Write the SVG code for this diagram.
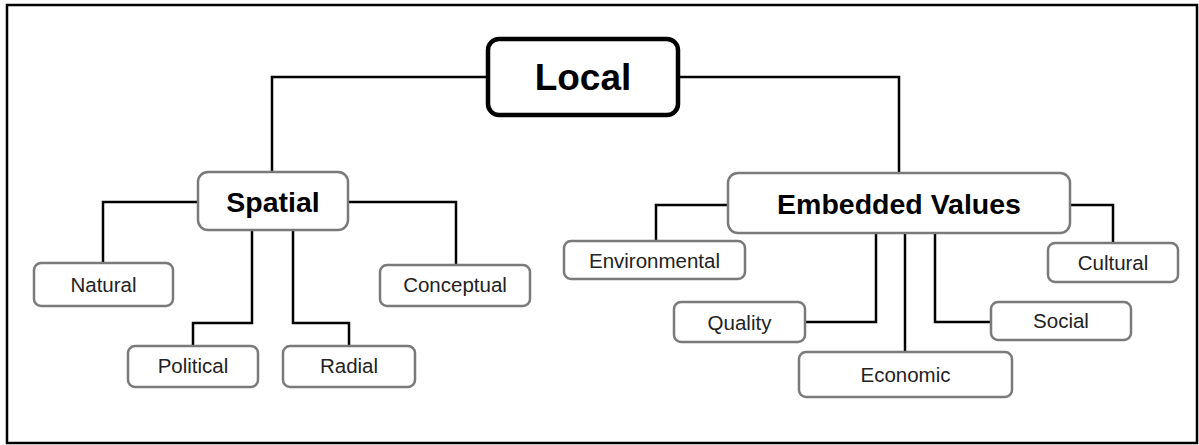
<svg xmlns="http://www.w3.org/2000/svg" width="1199" height="445" viewBox="0 0 1199 445">
<style>
.frame{fill:#fff;stroke:#000;stroke-width:2.5}
.box{fill:#fff;stroke:#7a7a7a;stroke-width:2.5}
.root{fill:#fff;stroke:#000;stroke-width:4.5}
.c{fill:none;stroke:#000;stroke-width:2.5}
.t{font-family:"Liberation Sans",Arial,sans-serif;font-size:20.5px;fill:#222;text-anchor:middle}
.b{font-family:"Liberation Sans",Arial,sans-serif;font-weight:bold;font-size:28.5px;fill:#000;text-anchor:middle}
.rt{font-family:"Liberation Sans",Arial,sans-serif;font-weight:bold;font-size:37px;fill:#000;text-anchor:middle}
</style>
<rect class="frame" x="7" y="5" width="1190" height="438"/>
<g id="connectors">
<path class="c" d="M488 77 H272 V172"/>
<path class="c" d="M678 77 H899 V173"/>
<path class="c" d="M198 202 H103 V263"/>
<path class="c" d="M348 202 H456 V265"/>
<path class="c" d="M252 230 V323 H193 V346"/>
<path class="c" d="M293 230 V323 H349 V346"/>
<path class="c" d="M728 205 H656 V241"/>
<path class="c" d="M805 322 H876 V233"/>
<path class="c" d="M905 233 V352"/>
<path class="c" d="M935 233 V322 H991"/>
<path class="c" d="M1070 205 H1113 V243"/>
</g>
<g id="local"><rect class="root" x="488" y="39" width="190" height="76" rx="11"/><text class="rt" x="583" y="90">Local</text></g>
<g id="spatial"><rect class="box" x="198" y="172" width="150" height="58" rx="10"/><text class="b" x="273" y="212">Spatial</text></g>
<g id="embedded"><rect class="box" x="728" y="173" width="342" height="60" rx="10"/><text class="b" x="899" y="214">Embedded Values</text></g>
<g id="natural"><rect class="box" x="34" y="263" width="139" height="43" rx="7"/><text class="t" x="103.5" y="292">Natural</text></g>
<g id="conceptual"><rect class="box" x="380" y="265" width="150" height="41" rx="7"/><text class="t" x="455" y="292">Conceptual</text></g>
<g id="political"><rect class="box" x="128" y="346" width="130" height="41" rx="7"/><text class="t" x="193" y="373">Political</text></g>
<g id="radial"><rect class="box" x="283" y="346" width="132" height="41" rx="7"/><text class="t" x="349" y="373">Radial</text></g>
<g id="environmental"><rect class="box" x="564" y="241" width="181" height="38" rx="7"/><text class="t" x="654.5" y="268">Environmental</text></g>
<g id="quality"><rect class="box" x="674" y="302" width="131" height="40" rx="7"/><text class="t" x="739.5" y="330">Quality</text></g>
<g id="economic"><rect class="box" x="799" y="352" width="213" height="45" rx="7"/><text class="t" x="905.5" y="382">Economic</text></g>
<g id="social"><rect class="box" x="991" y="302" width="140" height="38" rx="7"/><text class="t" x="1061" y="328">Social</text></g>
<g id="cultural"><rect class="box" x="1048" y="243" width="130" height="39" rx="7"/><text class="t" x="1113" y="270">Cultural</text></g>
</svg>
